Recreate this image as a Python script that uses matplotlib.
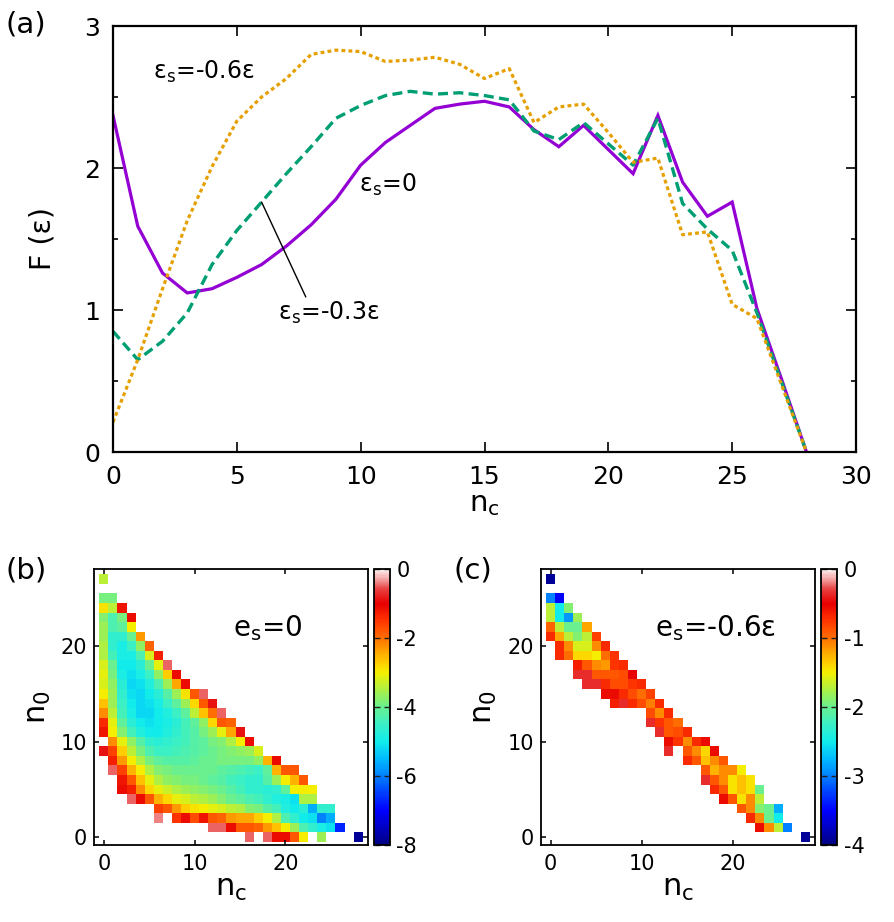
import numpy as np
import matplotlib
matplotlib.use('Agg')
import matplotlib.pyplot as plt
from matplotlib.colors import LinearSegmentedColormap
from matplotlib.ticker import MultipleLocator

plt.rcParams['font.family'] = ['DejaVu Sans']
plt.rcParams['axes.unicode_minus'] = False
plt.rcParams['mathtext.default'] = 'regular'

# ---------------- data: panel (a) ----------------
n_c = list(range(29))
F_es0 = [2.37, 1.59, 1.26, 1.12, 1.15, 1.23, 1.32, 1.45, 1.60, 1.78, 2.02, 2.18, 2.30, 2.42, 2.45,
         2.47, 2.43, 2.27, 2.15, 2.30, 2.13, 1.96, 2.37, 1.90, 1.66, 1.76, 1.01, 0.51, 0.0]
F_es03 = [0.85, 0.65, 0.78, 0.98, 1.32, 1.56, 1.76, 1.96, 2.15, 2.35, 2.44, 2.51, 2.54, 2.52, 2.53,
          2.51, 2.48, 2.26, 2.20, 2.32, 2.17, 2.02, 2.35, 1.75, 1.57, 1.42, 0.98, 0.49, 0.0]
F_es06 = [0.21, 0.65, 1.15, 1.63, 2.01, 2.33, 2.50, 2.63, 2.80, 2.83, 2.82, 2.75, 2.76, 2.78, 2.73,
          2.63, 2.70, 2.32, 2.43, 2.45, 2.25, 2.04, 2.07, 1.53, 1.55, 1.04, 0.94, 0.47, 0.0]

# ---------------- data: panel (b)  (n0, first n_c, values) ----------------
b_rows = [
    (27, 0, [-3.4]),
    (25, 0, [-3.9, -3.9]),
    (24, 0, [-2.9, -3.4, -1.2]),
    (23, 0, [-3.8, -4.3, -3.9, -1.1]),
    (22, 0, [-3.6, -4.3, -4.1, -3.0]),
    (21, 0, [-3.6, -4.6, -4.6, -4.0, -2.3]),
    (20, 0, [-3.5, -4.6, -4.9, -4.5, -3.7, -1.9]),
    (19, 0, [-3.5, -4.4, -4.9, -4.9, -4.3, -3.2, -1.3]),
    (18, 0, [-3.2, -4.0, -5.0, -5.0, -4.7, -4.0, -3.1, -0.5]),
    (17, 0, [-3.1, -3.9, -4.9, -5.1, -4.9, -4.5, -3.7, -2.7, -1.1]),
    (16, 0, [-3.2, -3.7, -4.7, -5.2, -5.1, -4.8, -4.3, -3.6, -2.4, -1.1]),
    (15, 0, [-3.0, -3.6, -4.6, -5.1, -5.2, -5.0, -4.7, -4.2, -3.6, -2.9, -1.8, -0.5]),
    (14, 0, [-2.6, -3.6, -4.5, -5.0, -5.2, -5.1, -4.9, -4.5, -4.1, -3.6, -2.8, -1.8, -0.9]),
    (13, 0, [-2.2, -3.4, -4.4, -4.9, -5.2, -5.2, -5.0, -4.8, -4.5, -4.1, -3.4, -2.6, -2.0, -0.5]),
    (12, 0, [-1.4, -3.1, -4.1, -4.7, -5.0, -5.1, -5.0, -4.9, -4.7, -4.4, -4.1, -3.7, -2.8, -1.8, -1.9]),
    (11, 0, [-1.2, -3.0, -3.8, -4.4, -4.8, -5.0, -5.0, -4.8, -4.6, -4.4, -4.2, -3.9, -3.6, -3.1, -2.4, -0.9]),
    (10, 1, [-2.2, -3.1, -3.7, -4.2, -4.6, -4.7, -4.6, -4.5, -4.4, -4.2, -4.1, -3.9, -3.8, -3.5, -3.0, -1.1]),
    (9, 0, [-0.9, -1.6, -2.7, -3.4, -3.9, -4.3, -4.5, -4.5, -4.4, -4.3, -4.2, -4.1, -4.0, -3.9, -3.8, -3.7,
            -3.6, -3.2]),
    (8, 1, [-1.3, -2.3, -3.0, -3.5, -3.9, -4.1, -4.2, -4.2, -4.2, -4.1, -4.0, -4.0, -3.9, -3.9, -3.9, -3.9,
            -3.7, -2.5, -1.1]),
    (7, 1, [-0.5, -1.6, -2.5, -3.0, -3.5, -3.8, -3.9, -4.0, -4.0, -4.0, -4.0, -4.0, -4.1, -4.2, -4.3, -4.4,
            -4.5, -4.1, -2.5, -1.8, -1.8]),
    (6, 2, [-1.2, -1.8, -2.6, -3.1, -3.5, -3.7, -3.8, -3.9, -3.9, -4.0, -4.1, -4.2, -4.4, -4.5, -4.6, -4.6,
            -4.2, -3.6, -3.0, -2.5, -1.8]),
    (5, 2, [-1.1, -1.3, -2.2, -2.8, -3.1, -3.3, -3.5, -3.6, -3.7, -3.8, -3.9, -4.0, -4.2, -4.4, -4.6, -4.6,
            -4.7, -4.6, -4.1, -3.0, -3.0, -3.0]),
    (4, 3, [-0.5, -1.1, -1.8, -2.5, -2.8, -3.1, -3.2, -3.4, -3.5, -3.6, -3.8, -4.0, -4.1, -4.3, -4.4, -4.6,
            -4.8, -4.9, -5.1, -3.5, -3.5]),
    (3, 6, [-1.6, -1.8, -2.3, -2.7, -2.9, -3.0, -3.1, -3.2, -3.4, -3.5, -3.8, -3.9, -4.2, -4.4, -4.8, -5.0,
            -4.7, -5.6, -4.6, -4.6]),
    (2, 6, [-0.4, None, -1.5, -1.1, -1.7, -1.2, -1.8, -1.9, -2.3, -2.4, -2.4, -2.7, -3.0, -3.5, -4.3, -4.6,
            -5.0, -5.1, -6.0, -5.6]),
    (1, 12, [-0.5, -0.5, -1.1, -1.8, -1.8, -1.9, -2.3, -2.6, -3.0, -3.6, -4.3, -4.6, -4.9, -5.1, -6.7]),
    (0, 16, [-0.5, None, -0.5, -1.1, -1.1, -1.8, -3.0, None, -3.6, None, None, None, -7.8]),
]

# ---------------- data: panel (c) ----------------
c_rows = [
    (27, 0, [-3.9]),
    (25, 0, [-3.0, -3.5]),
    (24, 0, [-1.7, -2.5, -1.9]),
    (23, 0, [-1.7, -2.5, -2.9, -1.8]),
    (22, 0, [-0.95, -1.7, -2.0, -2.0, -1.2]),
    (21, 0, [-0.7, -1.2, -1.7, -1.9, -1.7, -0.8]),
    (20, 1, [-0.7, -1.1, -1.6, -1.6, -1.1, -0.7]),
    (19, 1, [-0.7, -1.0, -1.4, -1.4, -1.5, -1.0, -0.75]),
    (18, 3, [-0.65, -0.9, -1.1, -1.15, -0.75, -0.7]),
    (17, 3, [-0.35, -0.35, -0.9, -0.9, -0.9, -0.85, -0.5]),
    (16, 4, [-0.35, -0.35, -0.7, -0.85, -0.85, -0.75, -0.7]),
    (15, 6, [-0.55, -0.55, -0.7, -0.85, -1.0, -0.8]),
    (14, 7, [-0.65, -0.35, -0.7, -0.85, -1.05, -0.7]),
    (13, 11, [-0.85, -1.1, -0.7]),
    (12, 11, [-0.35, -0.75, -0.9, -1.0]),
    (11, 12, [-0.35, -0.9, -0.85, -0.7]),
    (10, 13, [-0.55, -0.75, -1.1, -0.7, -0.55]),
    (9, 13, [-0.35, None, -0.9, -1.1, -1.4, -0.55]),
    (8, 15, [-0.7, -0.9, -1.3, -1.1, -0.9]),
    (7, 17, [-0.9, -1.25, -1.1, -1.1, -1.5]),
    (6, 17, [-0.35, -0.9, -1.1, -1.45, -1.3, -1.45]),
    (5, 18, [-0.7, -0.9, -1.45, -1.3, -1.45, -2.0]),
    (4, 19, [-0.55, -0.9, -1.45, -1.1, -1.7]),
    (3, 21, [-0.9, -1.1, -1.9, -2.0, -2.8]),
    (2, 22, [-0.7, -1.1, -2.0, -2.5]),
    (1, 23, [-0.55, -1.1, -1.7, -3.0]),
    (0, 28, [-3.9]),
]

b_ticks = [0, -2, -4, -6, -8]
c_ticks = [0, -1, -2, -3, -4]
heat_ticks = [0, 10, 20]

# ---------------- colormap ----------------
cmap = LinearSegmentedColormap.from_list('pal', [
    (0.00, '#000080'), (0.06, '#0000c0'), (0.125, '#0000ff'), (0.19, '#0040ff'),
    (0.25, '#0080ff'), (0.31, '#00b8ff'), (0.375, '#10ecec'), (0.44, '#3cf0c4'),
    (0.50, '#68f090'), (0.56, '#a8f048'), (0.625, '#f4f000'), (0.66, '#ffd000'),
    (0.70, '#ffa800'), (0.75, '#ff7000'), (0.81, '#ff3800'), (0.875, '#e80000'),
    (0.925, '#e83838'), (0.955, '#f08888'), (1.00, '#fff4f4')])


def build(rows):
    grid = np.full((28, 29), np.nan)
    for n0, start, vals in rows:
        for k, v in enumerate(vals):
            if v is not None:
                grid[n0, start + k] = v
    return np.ma.masked_invalid(grid)


W, H = 894, 922
fig = plt.figure(figsize=(W / 100, H / 100), dpi=100)

# ---------------- panel (a) ----------------
ax = fig.add_axes([113 / W, 1 - 452 / H, (856 - 113) / W, (452 - 26) / H])
ax.plot(n_c, F_es0, color='#9400d3', lw=2.3, solid_joinstyle='miter')
ax.plot(n_c, F_es03, color='#009e73', lw=2.4, dashes=(3.0, 1.6))
ax.plot(n_c, F_es06, color='#e69f00', lw=2.3, dashes=(1.2, 1.0))
ax.set_xlim(0, 30)
ax.set_ylim(0, 3)
ax.set_xticks(range(0, 31, 5))
ax.set_yticks([0, 1, 2, 3])
ax.yaxis.set_minor_locator(MultipleLocator(0.5))
ax.tick_params(which='both', direction='in', top=True, right=True, width=1.2, labelsize=18)
ax.tick_params(which='major', length=7)
ax.tick_params(which='minor', length=3.6)
ax.tick_params(axis='y', pad=9)
ax.tick_params(axis='x', pad=9)
for s in ax.spines.values():
    s.set_linewidth(1.6)
ax.set_xlabel(r'$\mathregular{n_c}$', fontsize=21, labelpad=1)
ax.set_ylabel('F (ε)', fontsize=20.5, labelpad=20)
ax.text(1.6, 2.68, r'$\mathregular{ε_s}$=-0.6ε', fontsize=17, va='center', ha='left')
ax.text(9.95, 1.88, r'$\mathregular{ε_s}$=0', fontsize=17, va='center', ha='left')
ax.annotate(r'$\mathregular{ε_s}$=-0.3ε', xy=(6, F_es03[6]), xytext=(6.65, 0.98),
            fontsize=17, va='center', ha='left',
            arrowprops=dict(arrowstyle='-', color='k', lw=1.0, relpos=(0.29, 1.0),
                            shrinkA=0, shrinkB=0))
fig.text(5 / W, 1 - 24 / H, '(a)', fontsize=21, va='center', ha='left')


# ---------------- panels (b), (c) ----------------
def heat_panel(rect, crect, rows, vmin, ticks, label, txt, txt_x):
    axh = fig.add_axes(rect)
    xe = np.arange(-0.5, 29.5, 1.0)
    ye = np.arange(-0.5, 28.5, 1.0)
    mesh = axh.pcolormesh(xe, ye, build(rows), cmap=cmap, vmin=vmin, vmax=0, shading='flat')
    axh.set_xlim(-1.05, 29.05)
    axh.set_ylim(-0.85, 28.05)
    axh.set_xticks(heat_ticks)
    axh.set_yticks(heat_ticks)
    axh.tick_params(direction='in', top=True, right=True, length=3.5, width=1.1, labelsize=15)
    axh.tick_params(axis='y', pad=5)
    axh.tick_params(axis='x', pad=6)
    for s in axh.spines.values():
        s.set_linewidth(1.3)
    axh.set_xlabel(r'$\mathregular{n_c}$', fontsize=22, labelpad=0)
    axh.set_ylabel(r'$\mathregular{n_0}$', fontsize=22, labelpad=6)
    axh.text(txt_x, 21.9, txt, fontsize=20, va='center', ha='left')
    cax = fig.add_axes(crect)
    cb = fig.colorbar(mesh, cax=cax, ticks=ticks)
    cb.outline.set_linewidth(1.3)
    cax.tick_params(direction='in', left=True, right=True, length=4.5, width=1.0,
                    labelsize=15, pad=5, color='#202020')
    cax.set_yticklabels([str(t) for t in ticks])
    fig.text(label[1] / W, 1 - label[2] / H, label[0], fontsize=21, va='center', ha='left')
    return axh


hb = 276.3 / H
yb = 1 - 845.3 / H
heat_panel([94.3 / W, yb, (367.7 - 94.3) / W, hb], [374 / W, yb, 15.5 / W, hb],
           b_rows, -8, b_ticks, ('(b)', 5, 571), r'$\mathregular{e_s}$=0', 14.2)
heat_panel([541 / W, yb, (815 - 541) / W, hb], [821 / W, yb, 16 / W, hb],
           c_rows, -4, c_ticks, ('(c)', 453, 571), r'$\mathregular{e_s}$=-0.6ε', 11.5)

fig.savefig('out.png', dpi=100)
